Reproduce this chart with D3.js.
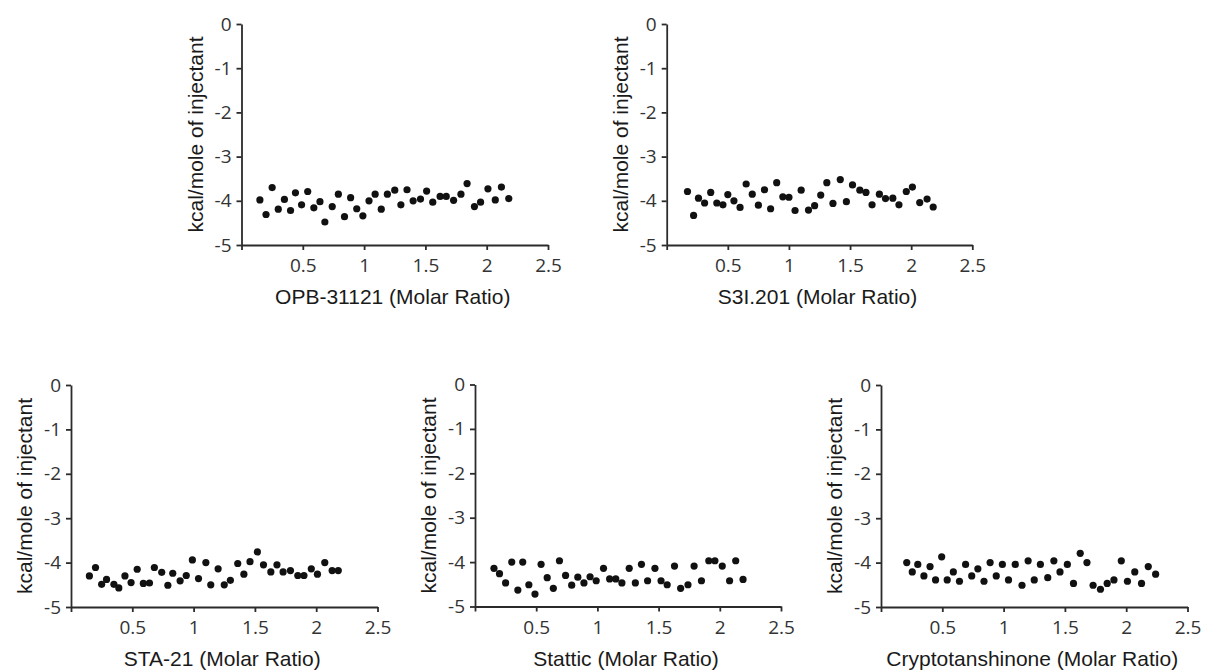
<!DOCTYPE html>
<html><head><meta charset="utf-8">
<script src="https://cdn.jsdelivr.net/npm/d3@7"></script>
<style>body{margin:0;background:#fff}svg{display:block}</style>
</head><body>
<svg id="c" width="1207" height="671"></svg>
<script>
const xTicks = [0, 0.5, 1, 1.5, 2, 2.5];
const xTickLabels = ["", "0.5", "1", "1.5", "2", "2.5"];
const yTicks = [0, -1, -2, -3, -4, -5];
const yTickLabels = ["0", "-1", "-2", "-3", "-4", "-5"];
const yTitle = "kcal/mole of injectant";

const xOPB = [0.15,0.20,0.25,0.30,0.35,0.40,0.44,0.49,0.54,0.59,0.64,0.68,0.74,0.79,0.84,0.89,0.94,0.99,1.04,1.09,1.14,1.19,1.25,1.30,1.35,1.40,1.46,1.51,1.56,1.62,1.67,1.73,1.79,1.84,1.90,1.95,2.01,2.07,2.12,2.18];
const yOPB = [-3.98,-4.31,-3.70,-4.19,-3.97,-4.22,-3.82,-4.09,-3.79,-4.16,-4.02,-4.48,-4.13,-3.85,-4.36,-3.93,-4.18,-4.34,-4.00,-3.85,-4.19,-3.85,-3.76,-4.09,-3.75,-4.00,-3.96,-3.78,-4.03,-3.90,-3.90,-3.99,-3.85,-3.61,-4.13,-4.03,-3.73,-3.98,-3.69,-3.95];

const xS3I = [0.17,0.22,0.26,0.31,0.36,0.41,0.46,0.50,0.55,0.60,0.65,0.70,0.75,0.80,0.85,0.90,0.95,1.00,1.05,1.10,1.16,1.21,1.26,1.31,1.36,1.42,1.47,1.52,1.58,1.63,1.68,1.74,1.79,1.85,1.90,1.96,2.01,2.07,2.13,2.18];
const yS3I = [-3.79,-4.33,-3.94,-4.05,-3.81,-4.05,-4.09,-3.86,-4.00,-4.15,-3.62,-3.85,-4.10,-3.75,-4.18,-3.59,-3.91,-3.92,-4.22,-3.76,-4.21,-4.11,-3.87,-3.59,-4.06,-3.52,-4.02,-3.64,-3.76,-3.81,-4.09,-3.85,-3.95,-3.94,-4.09,-3.79,-3.69,-4.04,-3.96,-4.14];

const xSTA = [0.15,0.20,0.25,0.29,0.35,0.39,0.44,0.49,0.54,0.59,0.64,0.68,0.74,0.79,0.83,0.89,0.94,0.99,1.04,1.10,1.14,1.20,1.25,1.30,1.36,1.41,1.46,1.52,1.57,1.63,1.68,1.73,1.79,1.85,1.90,1.96,2.01,2.07,2.13,2.18];
const ySTA = [-4.30,-4.11,-4.49,-4.38,-4.49,-4.57,-4.30,-4.45,-4.15,-4.47,-4.46,-4.11,-4.22,-4.51,-4.24,-4.41,-4.29,-3.94,-4.36,-4.00,-4.50,-4.14,-4.50,-4.40,-4.02,-4.26,-3.98,-3.76,-4.05,-4.21,-4.05,-4.21,-4.18,-4.29,-4.29,-4.14,-4.26,-4.00,-4.18,-4.18];

const xStattic = [0.155,0.20,0.25,0.30,0.35,0.39,0.44,0.49,0.54,0.59,0.64,0.69,0.74,0.79,0.84,0.89,0.94,0.99,1.05,1.10,1.15,1.20,1.26,1.31,1.36,1.41,1.47,1.52,1.57,1.63,1.68,1.74,1.79,1.85,1.91,1.96,2.02,2.08,2.13,2.19];
const yStattic = [-4.14,-4.26,-4.47,-4.00,-4.63,-4.00,-4.51,-4.72,-4.05,-4.35,-4.59,-3.97,-4.30,-4.52,-4.34,-4.47,-4.33,-4.42,-4.14,-4.38,-4.38,-4.47,-4.14,-4.47,-4.05,-4.42,-4.14,-4.42,-4.51,-4.09,-4.59,-4.51,-4.09,-4.42,-3.97,-3.97,-4.09,-4.42,-3.97,-4.39];

const xCrypto = [0.21,0.255,0.30,0.35,0.40,0.445,0.495,0.54,0.59,0.64,0.69,0.74,0.79,0.84,0.89,0.94,0.99,1.04,1.095,1.15,1.20,1.25,1.30,1.36,1.41,1.46,1.52,1.57,1.625,1.68,1.73,1.79,1.845,1.90,1.96,2.01,2.07,2.125,2.18,2.24];
const yCrypto = [-4.00,-4.21,-4.04,-4.30,-4.09,-4.39,-3.87,-4.39,-4.21,-4.42,-4.04,-4.30,-4.14,-4.42,-4.00,-4.30,-4.04,-4.39,-4.04,-4.51,-3.96,-4.39,-4.04,-4.34,-3.96,-4.21,-4.04,-4.47,-3.79,-4.00,-4.51,-4.60,-4.47,-4.39,-3.96,-4.42,-4.21,-4.47,-4.09,-4.26];

const names = ["OPB-31121 (Molar Ratio)", "S3I.201 (Molar Ratio)", "STA-21 (Molar Ratio)", "Stattic (Molar Ratio)", "Cryptotanshinone (Molar Ratio)"];

const panels = [
  {name: names[0], xs: xOPB, ys: yOPB, left: 241.5, top: 24, w: 306.5, h: 221},
  {name: names[1], xs: xS3I, ys: yS3I, left: 666.7, top: 24, w: 305.6, h: 221},
  {name: names[2], xs: xSTA, ys: ySTA, left: 71, top: 385, w: 306.5, h: 222},
  {name: names[3], xs: xStattic, ys: yStattic, left: 475, top: 384.5, w: 306, h: 222},
  {name: names[4], xs: xCrypto, ys: yCrypto, left: 881, top: 385, w: 306.5, h: 222}
];

const svg = d3.select("#c");
const axisColor = "#2b2b2b";
const tickFont = "'Open Sans', 'Noto Sans', sans-serif";
const titleFont = "'Liberation Sans', Arial, sans-serif";

panels.forEach(p => {
  const g = svg.append("g").attr("transform", `translate(${p.left},${p.top})`);
  const x = d3.scaleLinear().domain([0, 2.5]).range([0, p.w]);
  const y = d3.scaleLinear().domain([-5, 0]).range([p.h, 0]);

  const xAxis = d3.axisBottom(x).tickValues(xTicks).tickFormat((d, i) => xTickLabels[i]).tickSizeOuter(0).tickSizeInner(5).tickPadding(9);
  const yAxis = d3.axisLeft(y).tickValues(yTicks).tickFormat((d, i) => yTickLabels[i]).tickSizeOuter(0).tickSizeInner(5).tickPadding(5);

  const gx = g.append("g").attr("transform", `translate(0,${p.h})`).call(xAxis);
  const gy = g.append("g").call(yAxis);
  [gx, gy].forEach(a => {
    a.select(".domain").attr("stroke", axisColor).attr("stroke-width", 1.8);
    a.selectAll(".tick line").attr("stroke", axisColor).attr("stroke-width", 1.8);
    a.selectAll(".tick text").attr("fill", "#333").style("font-family", tickFont).style("font-size", "19px");
  });

  g.append("text")
    .attr("x", p.w / 2 - 2).attr("y", p.h + 59)
    .attr("text-anchor", "middle")
    .style("font-family", titleFont).style("font-size", "21px").attr("fill", "#1a1a1a")
    .text(p.name);

  g.append("text")
    .attr("transform", `translate(-39,${p.h / 2}) rotate(-90)`)
    .attr("text-anchor", "middle")
    .style("font-family", titleFont).style("font-size", "21px").attr("fill", "#1a1a1a")
    .text(yTitle);

  g.append("g").selectAll("circle")
    .data(p.xs.map((v, i) => [v, p.ys[i]]))
    .join("circle")
    .attr("cx", d => x(d[0])).attr("cy", d => y(d[1]))
    .attr("r", 3.6).attr("fill", "#111");
});
</script>
</body></html>
